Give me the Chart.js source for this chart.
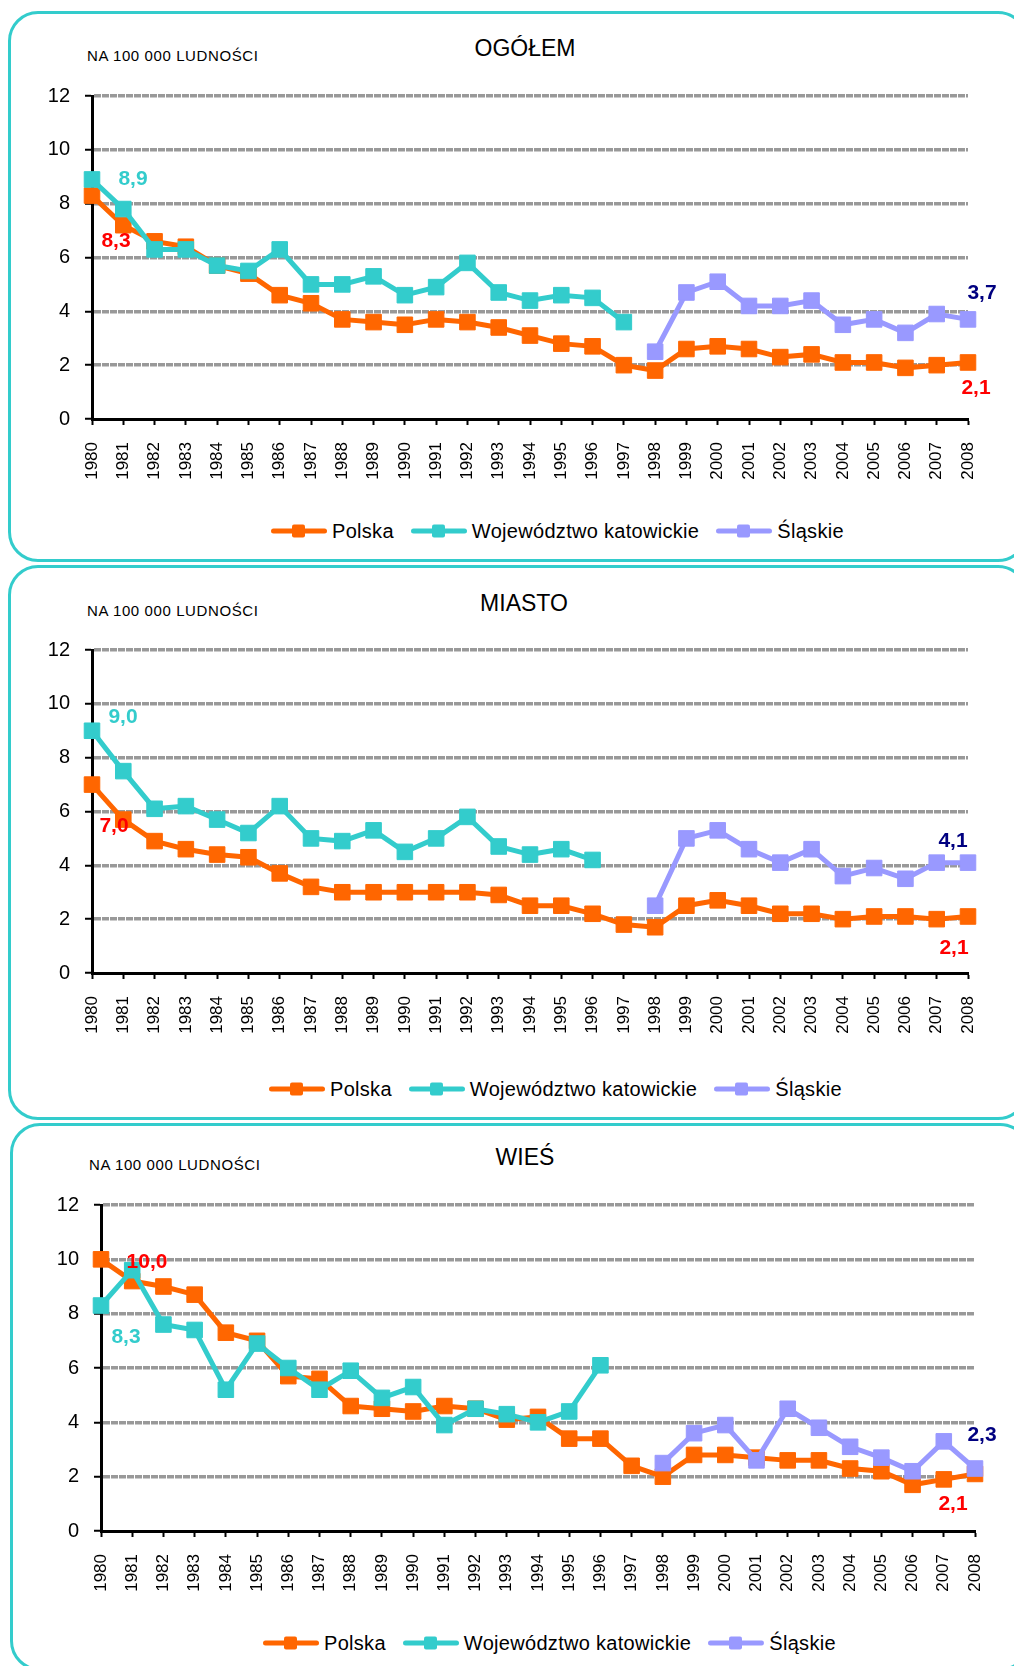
<!DOCTYPE html>
<html lang="pl">
<head>
<meta charset="utf-8">
<script src="https://cdn.jsdelivr.net/npm/chart.js@4.4.1/dist/chart.umd.min.js"></script>
<style>
  html, body { margin: 0; padding: 0; background: #fff; }
  body { width: 1014px; height: 1666px; position: relative; overflow: hidden; font-family: "Liberation Sans", Arial, sans-serif; color: #000; }
  .panel { position: absolute; border: 3px solid #33CCCC; border-radius: 30px; box-sizing: border-box; }
  canvas { position: absolute; left: 0; }
  .title { position: absolute; font-size: 23px; transform: translate(-50%, -50%); white-space: nowrap; }
  .unit { position: absolute; font-size: 15px; letter-spacing: 0.6px; transform: translateY(-50%); white-space: nowrap; }
  .legend { position: absolute; display: flex; align-items: center; transform: translateY(-50%); font-size: 20px; letter-spacing: 0.3px; white-space: nowrap; }
  .legend .item { display: flex; align-items: center; margin-right: 17px; }
  .legend .swatch { position: relative; width: 56px; height: 5px; border-radius: 3px; margin-right: 5px; }
  .legend .swatch i { position: absolute; left: 21px; top: -4px; width: 13px; height: 13px; border-radius: 2px; }
</style>
</head>
<body>

<div class="panel" style="left:8px; top:11px; width:1020px; height:551px;"></div>
<div class="panel" style="left:8px; top:565px; width:1020px; height:555px;"></div>
<div class="panel" style="left:10px; top:1123px; width:1020px; height:548px;"></div>

<div class="unit" style="left:87px; top:55px;">NA 100 000 LUDNOŚCI</div>
<div class="unit" style="left:87px; top:610px;">NA 100 000 LUDNOŚCI</div>
<div class="unit" style="left:89px; top:1164px;">NA 100 000 LUDNOŚCI</div>

<div class="title" style="left:525px; top:48px;">OGÓŁEM</div>
<div class="title" style="left:524px; top:603px;">MIASTO</div>
<div class="title" style="left:525px; top:1157px;">WIEŚ</div>

<canvas id="wykres-ogolem"></canvas>
<canvas id="wykres-miasto"></canvas>
<canvas id="wykres-wies"></canvas>

<div class="legend" id="legenda-ogolem" style="left:271px; top:531px;"></div>
<div class="legend" id="legenda-miasto" style="left:269px; top:1089px;"></div>
<div class="legend" id="legenda-wies" style="left:263px; top:1643px;"></div>

<script>
// dane (na 100 000 ludności)

const lata = ["1980", "1981", "1982", "1983", "1984", "1985", "1986", "1987", "1988", "1989",
  "1990", "1991", "1992", "1993", "1994", "1995", "1996", "1997", "1998", "1999",
  "2000", "2001", "2002", "2003", "2004", "2005", "2006", "2007", "2008"];

const nazwySerii = ["Polska", "Województwo katowickie", "Śląskie"];
const koloryLinii = ["#FF6600", "#33CCCC", "#9999FF"];
const koloryEtykiet = ["#FF0000", "#33CCCC", "#000080"];

const ogolemPolska = [8.3, 7.2, 6.6, 6.4, 5.7, 5.4, 4.6, 4.3, 3.7, 3.6, 3.5, 3.7, 3.6, 3.4, 3.1, 2.8, 2.7, 2.0, 1.8, 2.6, 2.7, 2.6, 2.3, 2.4, 2.1, 2.1, 1.9, 2.0, 2.1];
const ogolemWoj = [8.9, 7.8, 6.3, 6.3, 5.7, 5.5, 6.3, 5.0, 5.0, 5.3, 4.6, 4.9, 5.8, 4.7, 4.4, 4.6, 4.5, 3.6, null, null, null, null, null, null, null, null, null, null, null];
const ogolemSlaskie = [null, null, null, null, null, null, null, null, null, null, null, null, null, null, null, null, null, null, 2.5, 4.7, 5.1, 4.2, 4.2, 4.4, 3.5, 3.7, 3.2, 3.9, 3.7];

const miastoPolska = [7.0, 5.7, 4.9, 4.6, 4.4, 4.3, 3.7, 3.2, 3.0, 3.0, 3.0, 3.0, 3.0, 2.9, 2.5, 2.5, 2.2, 1.8, 1.7, 2.5, 2.7, 2.5, 2.2, 2.2, 2.0, 2.1, 2.1, 2.0, 2.1];
const miastoWoj = [9.0, 7.5, 6.1, 6.2, 5.7, 5.2, 6.2, 5.0, 4.9, 5.3, 4.5, 5.0, 5.8, 4.7, 4.4, 4.6, 4.2, null, null, null, null, null, null, null, null, null, null, null, null];
const miastoSlaskie = [null, null, null, null, null, null, null, null, null, null, null, null, null, null, null, null, null, null, 2.5, 5.0, 5.3, 4.6, 4.1, 4.6, 3.6, 3.9, 3.5, 4.1, 4.1];

const wiesPolska = [10.0, 9.2, 9.0, 8.7, 7.3, 7.0, 5.7, 5.6, 4.6, 4.5, 4.4, 4.6, 4.5, 4.1, 4.2, 3.4, 3.4, 2.4, 2.0, 2.8, 2.8, 2.7, 2.6, 2.6, 2.3, 2.2, 1.7, 1.9, 2.1];
const wiesWoj = [8.3, 9.6, 7.6, 7.4, 5.2, 6.9, 6.0, 5.2, 5.9, 4.9, 5.3, 3.9, 4.5, 4.3, 4.0, 4.4, 6.1, null, null, null, null, null, null, null, null, null, null, null, null];
const wiesSlaskie = [null, null, null, null, null, null, null, null, null, null, null, null, null, null, null, null, null, null, 2.5, 3.6, 3.9, 2.6, 4.5, 3.8, 3.1, 2.7, 2.2, 3.3, 2.3];

const osY = [0, 2, 4, 6, 8, 10, 12];


// położenie obszaru wykresu na stronie i przesunięcia etykiet wartości
const uklady = {
  ogolem: { left: 92, right: 968, top: 96, bottom: 419 },
  miasto: { left: 92, right: 968, top: 650, bottom: 973 },
  wies: { left: 101, right: 975, top: 1205, bottom: 1531 }
};

const etykiety = {
  ogolem: [
    { seria: 1, idx: 0, dx: 41, dy: 0 },
    { seria: 0, idx: 0, dx: 24, dy: 46 },
    { seria: 2, idx: 28, dx: 14, dy: -26 },
    { seria: 0, idx: 28, dx: 8, dy: 26 }
  ],
  miasto: [
    { seria: 1, idx: 0, dx: 31, dy: -14 },
    { seria: 0, idx: 0, dx: 22, dy: 42 },
    { seria: 2, idx: 28, dx: -15, dy: -21 },
    { seria: 0, idx: 28, dx: -14, dy: 32 }
  ],
  wies: [
    { seria: 0, idx: 0, dx: 46, dy: 3 },
    { seria: 1, idx: 0, dx: 25, dy: 32 },
    { seria: 2, idx: 28, dx: 7, dy: -33 },
    { seria: 0, idx: 28, dx: -22, dy: 30 }
  ]
};


const GORA = 60;
const DOL = 80;

function pluginEtykiet(lista) {
  return {
    id: "etykietyWartosci",
    afterDatasetsDraw(chart) {
      const ctx = chart.ctx;
      ctx.save();
      ctx.font = "bold 21px 'Liberation Sans', Arial, sans-serif";
      ctx.textAlign = "center";
      ctx.textBaseline = "middle";
      for (const e of lista) {
        const ds = chart.data.datasets[e.seria];
        const punkt = chart.getDatasetMeta(e.seria).data[e.idx];
        const wartosc = ds.data[e.idx];
        ctx.fillStyle = koloryEtykiet[e.seria];
        ctx.fillText(wartosc.toFixed(1).replace(".", ","), punkt.x + e.dx, punkt.y + e.dy);
      }
      ctx.restore();
    }
  };
}

function zrobLegende(id) {
  const el = document.getElementById(id);
  nazwySerii.forEach((nazwa, i) => {
    const item = document.createElement("div");
    item.className = "item";
    item.innerHTML = `<span class="swatch" style="background:${koloryLinii[i]}"><i style="background:${koloryLinii[i]}"></i></span><span>${nazwa}</span>`;
    el.appendChild(item);
  });
}

function zrobWykres(id, g, serie, lista) {
  const canvas = document.getElementById(id);
  const h = (g.bottom - g.top) + GORA + DOL;
  canvas.width = 1014;
  canvas.height = h;
  canvas.style.width = "1014px";
  canvas.style.height = h + "px";
  canvas.style.top = (g.top - GORA) + "px";

  const kolejnosc = [3, 2, 1];

  new Chart(canvas.getContext("2d"), {
    type: "line",
    data: {
      labels: lata,
      datasets: serie.map((dane, i) => ({
        label: nazwySerii[i],
        data: dane,
        borderColor: koloryLinii[i],
        backgroundColor: koloryLinii[i],
        borderWidth: 5,
        pointStyle: "rect",
        pointRadius: 11,
        pointHoverRadius: 11,
        pointBorderWidth: 1,
        pointBorderColor: koloryLinii[i],
        pointBackgroundColor: koloryLinii[i],
        tension: 0,
        spanGaps: false,
        order: kolejnosc[i]
      }))
    },
    options: {
      responsive: false,
      animation: false,
      events: [],
      layout: { padding: { top: GORA, right: 1014 - g.right, bottom: 0, left: 0 } },
      plugins: {
        legend: { display: false },
        title: { display: false },
        tooltip: { enabled: false }
      },
      scales: {
        x: {
          offset: false,
          afterFit: s => { s.height = DOL; },
          grid: { display: true, drawOnChartArea: false, drawTicks: true, tickLength: 6, tickColor: "#000", tickWidth: 2 },
          border: { display: true, color: "#000", width: 3 },
          ticks: {
            autoSkip: false, minRotation: 90, maxRotation: 90, padding: 17, color: "#000",
            font: { family: "'Liberation Sans', Arial, sans-serif", size: 17 }
          }
        },
        y: {
          min: osY[0],
          max: osY[osY.length - 1],
          afterFit: s => { s.width = g.left; },
          afterBuildTicks: s => { s.ticks = osY.map(v => ({ value: v })); },
          grid: {
            color: c => (c.tick && c.tick.value === 0 ? "rgba(0,0,0,0)" : "#999999"),
            lineWidth: 3.5,
            tickLength: 7,
            tickColor: "#000",
            tickWidth: 2
          },
          border: { display: true, color: "#000", width: 3, dash: [7, 1] },
          ticks: {
            padding: 15, color: "#000",
            font: { family: "'Liberation Sans', Arial, sans-serif", size: 20 }
          }
        }
      }
    },
    plugins: [pluginEtykiet(lista)]
  });
}

zrobWykres("wykres-ogolem", uklady.ogolem, [ogolemPolska, ogolemWoj, ogolemSlaskie], etykiety.ogolem);
zrobWykres("wykres-miasto", uklady.miasto, [miastoPolska, miastoWoj, miastoSlaskie], etykiety.miasto);
zrobWykres("wykres-wies", uklady.wies, [wiesPolska, wiesWoj, wiesSlaskie], etykiety.wies);

zrobLegende("legenda-ogolem");
zrobLegende("legenda-miasto");
zrobLegende("legenda-wies");
</script>
</body>
</html>
